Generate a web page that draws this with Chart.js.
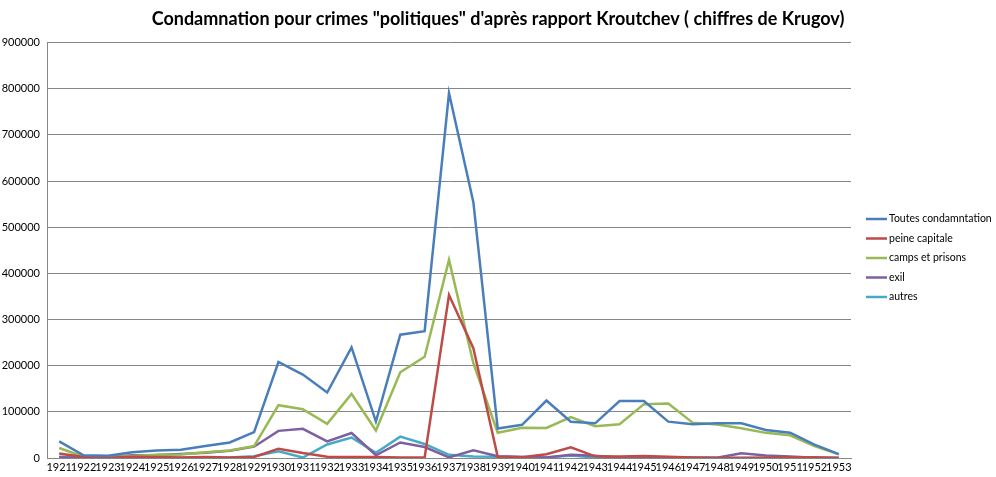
<!DOCTYPE html>
<html>
<head>
<meta charset="utf-8">
<script src="https://cdn.jsdelivr.net/npm/chart.js@4.4.0/dist/chart.umd.min.js"></script>
<style>
  html, body { margin: 0; padding: 0; background: #fff; }
  #wrap { width: 996px; height: 477px; }
</style>
</head>
<body>
<div id="wrap"><canvas id="chart" width="996" height="477"></canvas></div>
<script>
// --- Data ---
const years = ['1921','1922','1923','1924','1925','1926','1927','1928','1929','1930','1931',
  '1932','1933','1934','1935','1936','1937','1938','1939','1940','1941','1942','1943','1944',
  '1945','1946','1947','1948','1949','1950','1951','1952','1953'];

const toutes = [35829, 6003, 4794, 12425, 15995, 17804, 26036, 33757, 56220, 208068, 180696,
  141919, 239664, 78999, 267076, 274670, 790665, 554258, 63889, 71806, 124406, 78441, 75109,
  123248, 123294, 78810, 73269, 75125, 75125, 60641, 54775, 28800, 8403];

const peineCapitale = [9701, 1962, 414, 2550, 2433, 990, 2363, 869, 2109, 20201, 10651,
  2728, 2154, 2056, 1229, 1118, 353074, 238000, 2552, 1649, 8011, 23278, 3579, 3029,
  4252, 2896, 1105, 0, 0, 475, 1609, 1612, 198];

const camps = [21724, 2656, 2336, 4151, 6851, 7547, 12267, 16211, 25853, 114443, 105683,
  73946, 138903, 59451, 185846, 219418, 429311, 205509, 54666, 65727, 65000, 88809, 68887,
  73290, 116681, 117943, 76581, 72552, 64509, 54466, 49142, 25824, 7894];

const exil = [1817, 166, 2044, 5724, 6274, 8571, 11235, 15640, 24517, 58816, 63269,
  36017, 54262, 5994, 33601, 23719, 1366, 16842, 3783, 2142, 1200, 7070, 4787,
  649, 1647, 1498, 666, 419, 10316, 5225, 3425, 773, 38];

const autres = [2587, 1219, 0, 0, 437, 696, 171, 1037, 3741, 14609, 1093,
  29228, 44345, 11498, 46400, 30415, 6914, 3289, 2888, 2288, 1210, 5249, 1188,
  141, 668, 957, 458, 298, 300, 475, 599, 591, 273];

const yTicks = [0, 100000, 200000, 300000, 400000, 500000, 600000, 700000, 800000, 900000];

// --- Styling ---
const FONT = "Lato, 'Liberation Sans', Arial, sans-serif";

function series(label, data, color) {
  return {
    label: label,
    data: data,
    borderColor: color,
    backgroundColor: color,
    borderWidth: 2.5,
    pointRadius: 0,
    pointHoverRadius: 0,
    tension: 0,
    fill: false
  };
}

// legend drawn to the right of the plot, Excel style
const sideLegend = {
  id: 'sideLegend',
  afterDraw(chart) {
    const c = chart.ctx;
    const x0 = chart.chartArea.right + 15;
    const y0 = 219;
    c.save();
    c.font = '10.5px ' + FONT;
    c.textBaseline = 'middle';
    c.textAlign = 'left';
    chart.data.datasets.forEach((ds, i) => {
      const y = y0 + i * 19.5;
      c.strokeStyle = ds.borderColor;
      c.lineWidth = 2.5;
      c.beginPath();
      c.moveTo(x0, y);
      c.lineTo(x0 + 21, y);
      c.stroke();
      c.fillStyle = '#000';
      c.fillText(ds.label, x0 + 23, y);
    });
    c.restore();
  }
};

const ctx = document.getElementById('chart').getContext('2d');
new Chart(ctx, {
  type: 'line',
  data: {
    labels: years,
    datasets: [
      series('Toutes condamntation', toutes, '#4A7EBB'),
      series('peine capitale', peineCapitale, '#BE4B48'),
      series('camps et prisons', camps, '#98B954'),
      series('exil', exil, '#7D60A0'),
      series('autres', autres, '#46AAC5')
    ]
  },
  plugins: [sideLegend],
  options: {
    responsive: false,
    animation: false,
    layout: { padding: 0 },
    plugins: {
      title: {
        display: true,
        text: 'Condamnation pour crimes "politiques" d\'après rapport Kroutchev ( chiffres de Krugov)',
        color: '#000',
        font: { family: FONT, size: 18, weight: 'bold' },
        padding: { top: 8, bottom: 13 }
      },
      legend: { display: false },
      tooltip: { enabled: false }
    },
    scales: {
      x: {
        offset: true,
        afterFit: (scale) => { scale.height = 19; },
        grid: { display: false, drawTicks: false },
        border: { display: true, color: '#868686', width: 1 },
        ticks: {
          color: '#000',
          font: { family: FONT, size: 11 },
          autoSkip: false,
          maxRotation: 0,
          minRotation: 0,
          padding: 3
        }
      },
      y: {
        min: 0,
        max: 900000,
        afterFit: (scale) => { scale.width = 47; },
        afterBuildTicks: (axis) => { axis.ticks = yTicks.map(v => ({ value: v })); },
        grid: { color: '#868686', lineWidth: 1, drawTicks: false },
        border: { display: true, color: '#868686', width: 1 },
        ticks: {
          color: '#000',
          font: { family: FONT, size: 11 },
          padding: 7,
          callback: (v) => String(v)
        }
      },
      // empty axis on the right that keeps room for the legend
      legendSpace: {
        type: 'linear',
        position: 'right',
        display: true,
        afterFit: (scale) => { scale.width = 145; },
        grid: { display: false, drawTicks: false },
        border: { display: false },
        ticks: { display: false }
      }
    }
  }
});
</script>
</body>
</html>
